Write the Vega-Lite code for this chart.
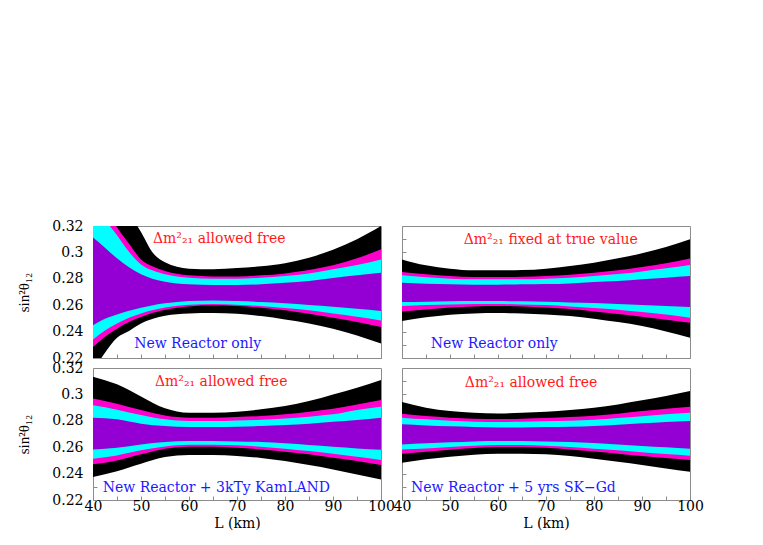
{
  "$schema": "https://vega.github.io/schema/vega-lite/v6.json",
  "background": "white",
  "padding": {"left": 16, "top": 218, "right": 5, "bottom": 5},
  "config": {
    "view": {"stroke": "#8c8c8c", "strokeWidth": 1},
    "axis": {"domain": false, "grid": false, "tickColor": "#8c8c8c", "tickSize": -4, "labelFont": "DejaVu Serif", "labelFontSize": 14, "labelColor": "#000000", "titleFont": "Liberation Serif", "titleFontSize": 15, "titleFontWeight": "normal", "titleColor": "#000000", "labelOverlap": false, "labelFlush": false},
    "axisX": {"tickCount": 12, "labelExpr": "datum.value % 10 == 0 ? datum.label : ''", "labelPadding": 3, "titlePadding": 3, "titleFont": "DejaVu Serif", "titleFontSize": 14},
    "axisY": {"tickCount": 10, "labelExpr": "round(datum.value*100) % 2 == 0 ? format(datum.value, '~g') : ''", "labelPadding": 14, "titlePadding": 20}
  },
  "datasets": {
    "bands": [
      {"panel": "A", "L": 40, "bl": 0.21, "ml": 0.2283, "cl": 0.2341, "pl": 0.2449, "pu": 0.3112, "cu": 0.34, "mu": 0.355, "bu": 0.38},
      {"panel": "A", "L": 42.5, "bl": 0.224, "ml": 0.2361, "cl": 0.2409, "pl": 0.2498, "pu": 0.3036, "cu": 0.325, "mu": 0.335, "bu": 0.362},
      {"panel": "A", "L": 45, "bl": 0.2353, "ml": 0.2422, "cl": 0.2462, "pl": 0.253, "pu": 0.2955, "cu": 0.313, "mu": 0.319, "bu": 0.345},
      {"panel": "A", "L": 47.5, "bl": 0.2405, "ml": 0.2472, "cl": 0.2505, "pl": 0.2558, "pu": 0.2888, "cu": 0.3005, "mu": 0.3065, "bu": 0.33},
      {"panel": "A", "L": 50, "bl": 0.2462, "ml": 0.251, "cl": 0.2538, "pl": 0.2581, "pu": 0.2834, "cu": 0.2909, "mu": 0.2947, "bu": 0.3155},
      {"panel": "A", "L": 52.5, "bl": 0.2497, "ml": 0.2543, "cl": 0.2564, "pl": 0.26, "pu": 0.2799, "cu": 0.2862, "mu": 0.2893, "bu": 0.2995},
      {"panel": "A", "L": 55, "bl": 0.252, "ml": 0.2566, "cl": 0.2583, "pl": 0.2614, "pu": 0.2778, "cu": 0.2834, "mu": 0.2859, "bu": 0.2925},
      {"panel": "A", "L": 60, "bl": 0.2538, "ml": 0.2591, "cl": 0.2604, "pl": 0.2631, "pu": 0.2758, "cu": 0.2808, "mu": 0.2826, "bu": 0.2877},
      {"panel": "A", "L": 65, "bl": 0.254, "ml": 0.2599, "cl": 0.2609, "pl": 0.2636, "pu": 0.2753, "cu": 0.2801, "mu": 0.2818, "bu": 0.2873},
      {"panel": "A", "L": 70, "bl": 0.2535, "ml": 0.2594, "cl": 0.2604, "pl": 0.2631, "pu": 0.2753, "cu": 0.2801, "mu": 0.2818, "bu": 0.2881},
      {"panel": "A", "L": 75, "bl": 0.2518, "ml": 0.2581, "cl": 0.2594, "pl": 0.2624, "pu": 0.2758, "cu": 0.2808, "mu": 0.2826, "bu": 0.2895},
      {"panel": "A", "L": 80, "bl": 0.2492, "ml": 0.2561, "cl": 0.2578, "pl": 0.2614, "pu": 0.277, "cu": 0.2821, "mu": 0.2841, "bu": 0.2918},
      {"panel": "A", "L": 85, "bl": 0.2462, "ml": 0.2535, "cl": 0.2561, "pl": 0.2601, "pu": 0.2783, "cu": 0.2841, "mu": 0.2866, "bu": 0.296},
      {"panel": "A", "L": 90, "bl": 0.2422, "ml": 0.2505, "cl": 0.2538, "pl": 0.2589, "pu": 0.2806, "cu": 0.2872, "mu": 0.2902, "bu": 0.302},
      {"panel": "A", "L": 95, "bl": 0.2371, "ml": 0.2472, "cl": 0.2513, "pl": 0.2573, "pu": 0.2826, "cu": 0.2904, "mu": 0.2955, "bu": 0.31},
      {"panel": "A", "L": 100, "bl": 0.231, "ml": 0.2434, "cl": 0.2485, "pl": 0.2556, "pu": 0.2846, "cu": 0.2947, "mu": 0.3023, "bu": 0.32},

      {"panel": "B", "L": 40, "bl": 0.248, "ml": 0.2553, "cl": 0.2594, "pl": 0.2624, "pu": 0.277, "cu": 0.2826, "mu": 0.2851, "bu": 0.2947},
      {"panel": "B", "L": 45, "bl": 0.2508, "ml": 0.2568, "cl": 0.2601, "pl": 0.2626, "pu": 0.2763, "cu": 0.2811, "mu": 0.2834, "bu": 0.2902},
      {"panel": "B", "L": 50, "bl": 0.2528, "ml": 0.2583, "cl": 0.2606, "pl": 0.2629, "pu": 0.2758, "cu": 0.2801, "mu": 0.2821, "bu": 0.2877},
      {"panel": "B", "L": 55, "bl": 0.2538, "ml": 0.2591, "cl": 0.2609, "pl": 0.2631, "pu": 0.2755, "cu": 0.2796, "mu": 0.2813, "bu": 0.2864},
      {"panel": "B", "L": 60, "bl": 0.254, "ml": 0.2594, "cl": 0.2609, "pl": 0.2631, "pu": 0.2755, "cu": 0.2796, "mu": 0.2813, "bu": 0.2864},
      {"panel": "B", "L": 65, "bl": 0.2538, "ml": 0.2591, "cl": 0.2606, "pl": 0.2629, "pu": 0.2758, "cu": 0.2796, "mu": 0.2816, "bu": 0.2866},
      {"panel": "B", "L": 70, "bl": 0.253, "ml": 0.2583, "cl": 0.2601, "pl": 0.2626, "pu": 0.276, "cu": 0.2801, "mu": 0.2821, "bu": 0.2877},
      {"panel": "B", "L": 75, "bl": 0.2518, "ml": 0.2571, "cl": 0.2591, "pl": 0.2621, "pu": 0.2765, "cu": 0.2808, "mu": 0.2831, "bu": 0.2897},
      {"panel": "B", "L": 80, "bl": 0.2498, "ml": 0.2553, "cl": 0.2578, "pl": 0.2616, "pu": 0.2775, "cu": 0.2821, "mu": 0.2846, "bu": 0.2922},
      {"panel": "B", "L": 85, "bl": 0.2472, "ml": 0.2533, "cl": 0.2566, "pl": 0.2609, "pu": 0.2783, "cu": 0.2836, "mu": 0.2864, "bu": 0.2955},
      {"panel": "B", "L": 90, "bl": 0.2442, "ml": 0.2513, "cl": 0.2548, "pl": 0.2601, "pu": 0.2796, "cu": 0.2856, "mu": 0.2889, "bu": 0.2993},
      {"panel": "B", "L": 95, "bl": 0.2401, "ml": 0.249, "cl": 0.253, "pl": 0.2594, "pu": 0.2808, "cu": 0.2879, "mu": 0.2917, "bu": 0.3041},
      {"panel": "B", "L": 100, "bl": 0.2353, "ml": 0.2467, "cl": 0.2505, "pl": 0.2586, "pu": 0.2821, "cu": 0.2904, "mu": 0.2953, "bu": 0.3099},

      {"panel": "C", "L": 40, "bl": 0.2375, "ml": 0.247, "cl": 0.2513, "pl": 0.2583, "pu": 0.2824, "cu": 0.2917, "mu": 0.2968, "bu": 0.3134},
      {"panel": "C", "L": 45, "bl": 0.2418, "ml": 0.25, "cl": 0.2538, "pl": 0.2596, "pu": 0.2811, "cu": 0.2884, "mu": 0.293, "bu": 0.3076},
      {"panel": "C", "L": 50, "bl": 0.2475, "ml": 0.2546, "cl": 0.2576, "pl": 0.2621, "pu": 0.2778, "cu": 0.2844, "mu": 0.2882, "bu": 0.2985},
      {"panel": "C", "L": 55, "bl": 0.2525, "ml": 0.2589, "cl": 0.2606, "pl": 0.2639, "pu": 0.276, "cu": 0.2811, "mu": 0.2841, "bu": 0.2895},
      {"panel": "C", "L": 60, "bl": 0.2541, "ml": 0.2604, "cl": 0.2619, "pl": 0.2647, "pu": 0.2753, "cu": 0.2798, "mu": 0.2824, "bu": 0.2861},
      {"panel": "C", "L": 65, "bl": 0.2541, "ml": 0.2604, "cl": 0.2619, "pl": 0.2647, "pu": 0.2753, "cu": 0.2798, "mu": 0.2824, "bu": 0.2861},
      {"panel": "C", "L": 70, "bl": 0.2533, "ml": 0.2596, "cl": 0.2614, "pl": 0.2644, "pu": 0.2755, "cu": 0.2803, "mu": 0.2829, "bu": 0.2869},
      {"panel": "C", "L": 75, "bl": 0.2518, "ml": 0.2583, "cl": 0.2604, "pl": 0.2639, "pu": 0.276, "cu": 0.2808, "mu": 0.2836, "bu": 0.2887},
      {"panel": "C", "L": 80, "bl": 0.2495, "ml": 0.2566, "cl": 0.2589, "pl": 0.2629, "pu": 0.2768, "cu": 0.2818, "mu": 0.2849, "bu": 0.2912},
      {"panel": "C", "L": 85, "bl": 0.2465, "ml": 0.2546, "cl": 0.2571, "pl": 0.2616, "pu": 0.2778, "cu": 0.2831, "mu": 0.2869, "bu": 0.295},
      {"panel": "C", "L": 90, "bl": 0.2432, "ml": 0.252, "cl": 0.2551, "pl": 0.2604, "pu": 0.2793, "cu": 0.2849, "mu": 0.2892, "bu": 0.3},
      {"panel": "C", "L": 95, "bl": 0.2394, "ml": 0.2495, "cl": 0.2528, "pl": 0.2591, "pu": 0.2806, "cu": 0.2882, "mu": 0.2924, "bu": 0.3051},
      {"panel": "C", "L": 100, "bl": 0.2356, "ml": 0.2465, "cl": 0.2503, "pl": 0.2581, "pu": 0.2824, "cu": 0.2907, "mu": 0.2957, "bu": 0.3109},

      {"panel": "D", "L": 40, "bl": 0.2482, "ml": 0.2551, "cl": 0.2583, "pl": 0.2621, "pu": 0.2773, "cu": 0.2824, "mu": 0.2854, "bu": 0.2942},
      {"panel": "D", "L": 45, "bl": 0.2508, "ml": 0.2566, "cl": 0.2591, "pl": 0.2629, "pu": 0.2765, "cu": 0.2811, "mu": 0.2836, "bu": 0.2899},
      {"panel": "D", "L": 50, "bl": 0.2528, "ml": 0.2581, "cl": 0.2601, "pl": 0.2637, "pu": 0.2758, "cu": 0.2801, "mu": 0.2824, "bu": 0.2874},
      {"panel": "D", "L": 55, "bl": 0.2543, "ml": 0.2594, "cl": 0.2611, "pl": 0.2644, "pu": 0.2753, "cu": 0.2793, "mu": 0.2816, "bu": 0.2861},
      {"panel": "D", "L": 60, "bl": 0.2551, "ml": 0.2601, "cl": 0.2616, "pl": 0.2647, "pu": 0.275, "cu": 0.2791, "mu": 0.2813, "bu": 0.2856},
      {"panel": "D", "L": 65, "bl": 0.2551, "ml": 0.2601, "cl": 0.2616, "pl": 0.2647, "pu": 0.275, "cu": 0.2793, "mu": 0.2816, "bu": 0.2861},
      {"panel": "D", "L": 70, "bl": 0.2546, "ml": 0.2596, "cl": 0.2611, "pl": 0.2644, "pu": 0.2753, "cu": 0.2796, "mu": 0.2821, "bu": 0.2869},
      {"panel": "D", "L": 75, "bl": 0.2533, "ml": 0.2583, "cl": 0.2601, "pl": 0.2639, "pu": 0.2755, "cu": 0.2801, "mu": 0.2829, "bu": 0.2882},
      {"panel": "D", "L": 80, "bl": 0.2513, "ml": 0.2568, "cl": 0.2589, "pl": 0.2631, "pu": 0.276, "cu": 0.2808, "mu": 0.2839, "bu": 0.2899},
      {"panel": "D", "L": 85, "bl": 0.249, "ml": 0.2551, "cl": 0.2576, "pl": 0.2621, "pu": 0.277, "cu": 0.2821, "mu": 0.2854, "bu": 0.2924},
      {"panel": "D", "L": 90, "bl": 0.2465, "ml": 0.2533, "cl": 0.2561, "pl": 0.2609, "pu": 0.2781, "cu": 0.2834, "mu": 0.2874, "bu": 0.2955},
      {"panel": "D", "L": 95, "bl": 0.2439, "ml": 0.2518, "cl": 0.2548, "pl": 0.2599, "pu": 0.2791, "cu": 0.2849, "mu": 0.2892, "bu": 0.2988},
      {"panel": "D", "L": 100, "bl": 0.2414, "ml": 0.2503, "cl": 0.2536, "pl": 0.2589, "pu": 0.2798, "cu": 0.2861, "mu": 0.2907, "bu": 0.3026}
    ],
    "notes": [
      {"panel": "A", "kind": "dm", "L": 66.3, "v": 0.3102, "label": "Δm²₂₁ allowed free"},
      {"panel": "A", "kind": "exp", "L": 61.8, "v": 0.2306, "label": "New Reactor only"},
      {"panel": "B", "kind": "dm", "L": 71.0, "v": 0.3094, "label": "Δm²₂₁ fixed at true value"},
      {"panel": "B", "kind": "exp", "L": 59.2, "v": 0.2306, "label": "New Reactor only"},
      {"panel": "C", "kind": "dm", "L": 66.7, "v": 0.3096, "label": "Δm²₂₁ allowed free"},
      {"panel": "C", "kind": "exp", "L": 65.7, "v": 0.2289, "label": "New Reactor + 3kTy KamLAND"},
      {"panel": "D", "kind": "dm", "L": 66.9, "v": 0.3089, "label": "Δm²₂₁ allowed free"},
      {"panel": "D", "kind": "exp", "L": 63.2, "v": 0.2293, "label": "New Reactor + 5 yrs SK−Gd"}
    ]
  },
  "columns": 2,
  "spacing": {"row": 10, "column": 21},
  "bounds": "flush",
  "concat": [
    {
      "width": 288, "height": 132,
      "encoding": {"x": {"field": "L", "type": "quantitative", "scale": {"domain": [40, 100], "nice": false, "zero": false}, "title": null, "axis": {"labels": false}}},
      "layer": [
        {"data": {"name": "bands"}, "transform": [{"filter": "datum.panel == 'A'"}], "mark": {"type": "area", "color": "#000000", "clip": true, "interpolate": "monotone"}, "encoding": {"y": {"field": "bl", "type": "quantitative", "scale": {"domain": [0.22, 0.32], "nice": false, "zero": false}, "title": "sin²θ₁₂"}, "y2": {"field": "bu"}}},
        {"data": {"name": "bands"}, "transform": [{"filter": "datum.panel == 'A'"}], "mark": {"type": "area", "color": "#ff00cc", "clip": true, "interpolate": "monotone"}, "encoding": {"y": {"field": "ml", "type": "quantitative", "title": "sin²θ₁₂"}, "y2": {"field": "mu"}}},
        {"data": {"name": "bands"}, "transform": [{"filter": "datum.panel == 'A'"}], "mark": {"type": "area", "color": "#00ffff", "clip": true, "interpolate": "monotone"}, "encoding": {"y": {"field": "cl", "type": "quantitative", "title": "sin²θ₁₂"}, "y2": {"field": "cu"}}},
        {"data": {"name": "bands"}, "transform": [{"filter": "datum.panel == 'A'"}], "mark": {"type": "area", "color": "#9400d3", "clip": true, "interpolate": "monotone"}, "encoding": {"y": {"field": "pl", "type": "quantitative", "title": "sin²θ₁₂"}, "y2": {"field": "pu"}}},
        {"data": {"name": "notes"}, "transform": [{"filter": "datum.panel == 'A' && datum.kind == 'dm'"}], "mark": {"type": "text", "color": "#ff1a1a", "font": "DejaVu Serif", "fontSize": 14, "align": "center", "baseline": "middle"}, "encoding": {"y": {"field": "v", "type": "quantitative", "title": "sin²θ₁₂"}, "text": {"field": "label"}}},
        {"data": {"name": "notes"}, "transform": [{"filter": "datum.panel == 'A' && datum.kind == 'exp'"}], "mark": {"type": "text", "color": "#1a1aff", "font": "DejaVu Serif", "fontSize": 14, "align": "center", "baseline": "middle"}, "encoding": {"y": {"field": "v", "type": "quantitative", "title": "sin²θ₁₂"}, "text": {"field": "label"}}}
      ]
    },
    {
      "width": 288, "height": 132,
      "encoding": {"x": {"field": "L", "type": "quantitative", "scale": {"domain": [40, 100], "nice": false, "zero": false}, "title": null, "axis": {"labels": false}}},
      "layer": [
        {"data": {"name": "bands"}, "transform": [{"filter": "datum.panel == 'B'"}], "mark": {"type": "area", "color": "#000000", "clip": true, "interpolate": "monotone"}, "encoding": {"y": {"field": "bl", "type": "quantitative", "scale": {"domain": [0.22, 0.32], "nice": false, "zero": false}, "title": null, "axis": {"labels": false}}, "y2": {"field": "bu"}}},
        {"data": {"name": "bands"}, "transform": [{"filter": "datum.panel == 'B'"}], "mark": {"type": "area", "color": "#ff00cc", "clip": true, "interpolate": "monotone"}, "encoding": {"y": {"field": "ml", "type": "quantitative", "title": null, "axis": {"labels": false}}, "y2": {"field": "mu"}}},
        {"data": {"name": "bands"}, "transform": [{"filter": "datum.panel == 'B'"}], "mark": {"type": "area", "color": "#00ffff", "clip": true, "interpolate": "monotone"}, "encoding": {"y": {"field": "cl", "type": "quantitative", "title": null, "axis": {"labels": false}}, "y2": {"field": "cu"}}},
        {"data": {"name": "bands"}, "transform": [{"filter": "datum.panel == 'B'"}], "mark": {"type": "area", "color": "#9400d3", "clip": true, "interpolate": "monotone"}, "encoding": {"y": {"field": "pl", "type": "quantitative", "title": null, "axis": {"labels": false}}, "y2": {"field": "pu"}}},
        {"data": {"name": "notes"}, "transform": [{"filter": "datum.panel == 'B' && datum.kind == 'dm'"}], "mark": {"type": "text", "color": "#ff1a1a", "font": "DejaVu Serif", "fontSize": 14, "align": "center", "baseline": "middle"}, "encoding": {"y": {"field": "v", "type": "quantitative", "title": null, "axis": {"labels": false}}, "text": {"field": "label"}}},
        {"data": {"name": "notes"}, "transform": [{"filter": "datum.panel == 'B' && datum.kind == 'exp'"}], "mark": {"type": "text", "color": "#1a1aff", "font": "DejaVu Serif", "fontSize": 14, "align": "center", "baseline": "middle"}, "encoding": {"y": {"field": "v", "type": "quantitative", "title": null, "axis": {"labels": false}}, "text": {"field": "label"}}}
      ]
    },
    {
      "width": 288, "height": 132,
      "encoding": {"x": {"field": "L", "type": "quantitative", "scale": {"domain": [40, 100], "nice": false, "zero": false}, "title": "L (km)"}},
      "layer": [
        {"data": {"name": "bands"}, "transform": [{"filter": "datum.panel == 'C'"}], "mark": {"type": "area", "color": "#000000", "clip": true, "interpolate": "monotone"}, "encoding": {"y": {"field": "bl", "type": "quantitative", "scale": {"domain": [0.22, 0.32], "nice": false, "zero": false}, "title": "sin²θ₁₂"}, "y2": {"field": "bu"}}},
        {"data": {"name": "bands"}, "transform": [{"filter": "datum.panel == 'C'"}], "mark": {"type": "area", "color": "#ff00cc", "clip": true, "interpolate": "monotone"}, "encoding": {"y": {"field": "ml", "type": "quantitative", "title": "sin²θ₁₂"}, "y2": {"field": "mu"}}},
        {"data": {"name": "bands"}, "transform": [{"filter": "datum.panel == 'C'"}], "mark": {"type": "area", "color": "#00ffff", "clip": true, "interpolate": "monotone"}, "encoding": {"y": {"field": "cl", "type": "quantitative", "title": "sin²θ₁₂"}, "y2": {"field": "cu"}}},
        {"data": {"name": "bands"}, "transform": [{"filter": "datum.panel == 'C'"}], "mark": {"type": "area", "color": "#9400d3", "clip": true, "interpolate": "monotone"}, "encoding": {"y": {"field": "pl", "type": "quantitative", "title": "sin²θ₁₂"}, "y2": {"field": "pu"}}},
        {"data": {"name": "notes"}, "transform": [{"filter": "datum.panel == 'C' && datum.kind == 'dm'"}], "mark": {"type": "text", "color": "#ff1a1a", "font": "DejaVu Serif", "fontSize": 14, "align": "center", "baseline": "middle"}, "encoding": {"y": {"field": "v", "type": "quantitative", "title": "sin²θ₁₂"}, "text": {"field": "label"}}},
        {"data": {"name": "notes"}, "transform": [{"filter": "datum.panel == 'C' && datum.kind == 'exp'"}], "mark": {"type": "text", "color": "#1a1aff", "font": "DejaVu Serif", "fontSize": 14, "align": "center", "baseline": "middle"}, "encoding": {"y": {"field": "v", "type": "quantitative", "title": "sin²θ₁₂"}, "text": {"field": "label"}}}
      ]
    },
    {
      "width": 288, "height": 132,
      "encoding": {"x": {"field": "L", "type": "quantitative", "scale": {"domain": [40, 100], "nice": false, "zero": false}, "title": "L (km)"}},
      "layer": [
        {"data": {"name": "bands"}, "transform": [{"filter": "datum.panel == 'D'"}], "mark": {"type": "area", "color": "#000000", "clip": true, "interpolate": "monotone"}, "encoding": {"y": {"field": "bl", "type": "quantitative", "scale": {"domain": [0.22, 0.32], "nice": false, "zero": false}, "title": null, "axis": {"labels": false}}, "y2": {"field": "bu"}}},
        {"data": {"name": "bands"}, "transform": [{"filter": "datum.panel == 'D'"}], "mark": {"type": "area", "color": "#ff00cc", "clip": true, "interpolate": "monotone"}, "encoding": {"y": {"field": "ml", "type": "quantitative", "title": null, "axis": {"labels": false}}, "y2": {"field": "mu"}}},
        {"data": {"name": "bands"}, "transform": [{"filter": "datum.panel == 'D'"}], "mark": {"type": "area", "color": "#00ffff", "clip": true, "interpolate": "monotone"}, "encoding": {"y": {"field": "cl", "type": "quantitative", "title": null, "axis": {"labels": false}}, "y2": {"field": "cu"}}},
        {"data": {"name": "bands"}, "transform": [{"filter": "datum.panel == 'D'"}], "mark": {"type": "area", "color": "#9400d3", "clip": true, "interpolate": "monotone"}, "encoding": {"y": {"field": "pl", "type": "quantitative", "title": null, "axis": {"labels": false}}, "y2": {"field": "pu"}}},
        {"data": {"name": "notes"}, "transform": [{"filter": "datum.panel == 'D' && datum.kind == 'dm'"}], "mark": {"type": "text", "color": "#ff1a1a", "font": "DejaVu Serif", "fontSize": 14, "align": "center", "baseline": "middle"}, "encoding": {"y": {"field": "v", "type": "quantitative", "title": null, "axis": {"labels": false}}, "text": {"field": "label"}}},
        {"data": {"name": "notes"}, "transform": [{"filter": "datum.panel == 'D' && datum.kind == 'exp'"}], "mark": {"type": "text", "color": "#1a1aff", "font": "DejaVu Serif", "fontSize": 14, "align": "center", "baseline": "middle"}, "encoding": {"y": {"field": "v", "type": "quantitative", "title": null, "axis": {"labels": false}}, "text": {"field": "label"}}}
      ]
    }
  ]
}
